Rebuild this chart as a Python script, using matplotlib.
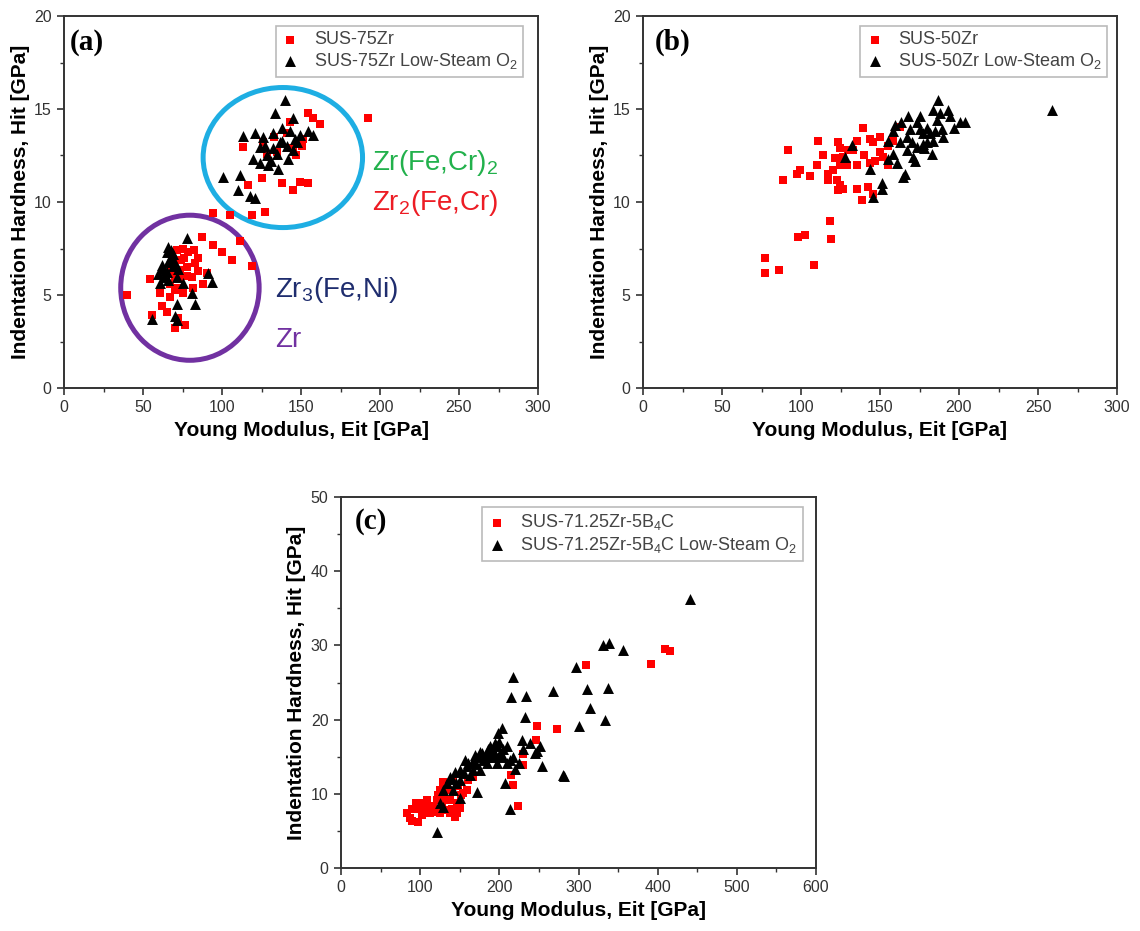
import numpy as np
import matplotlib
matplotlib.use("Agg")
import matplotlib.pyplot as plt
from matplotlib.patches import Ellipse
from matplotlib.ticker import MultipleLocator

plt.rcParams['font.family'] = ['Liberation Sans', 'DejaVu Sans']
plt.rcParams['mathtext.default'] = 'regular'

# ---- panel (a): SUS-75Zr ----
a_red_x = [154.6, 157.8, 162.0, 192.6, 143.0, 113.5, 125.1, 116.7, 137.8, 145.2, 149.4, 154.6,
           118.8, 127.2, 128.3, 145.0, 150.4, 134.6, 151.5, 141.0, 126.2, 94.5, 105.0,
           133.0, 147.0,
           39.7, 87.1, 94.5, 99.8, 106.1, 118.8, 111.4, 85.0, 82.9, 71.3, 75.5, 69.2, 77.6,
           80.8, 88.2, 73.4, 67.1, 54.4, 60.8, 67.1, 70.3, 75.5, 61.8, 55.5, 65.0, 70.3,
           76.6, 72.4, 78.7, 73.4, 68.1, 81.9, 90.3,
           74.0, 78.0, 72.0, 76.0, 82.0, 70.0, 85.0]
a_red_y = [14.77, 14.5, 14.2, 14.5, 14.3, 12.97, 11.3, 10.9, 11.0, 10.65, 11.1, 11.0,
           9.3, 9.45, 12.6, 12.9, 13.0, 12.7, 13.4, 13.7, 13.2, 9.39, 9.3,
           13.5, 12.5,
           5.0, 8.13, 7.7, 7.3, 6.9, 6.55, 7.9, 7.0, 6.7, 7.4, 7.5, 6.7, 6.5,
           5.99, 5.6, 5.99, 5.6, 5.87, 5.1, 4.9, 5.25, 5.1, 4.4, 3.95, 4.1, 3.2,
           3.4, 3.75, 7.3, 6.35, 6.35, 5.4, 6.16,
           6.9, 6.0, 5.4, 7.0, 7.4, 6.0, 6.3]
a_blk_x = [139.9, 133.5, 145.0, 113.5, 120.9, 126.2, 132.5, 143.0, 149.4, 154.7, 157.8, 137.8,
           124.0, 132.5, 128.3, 145.0, 119.8, 124.0, 129.3, 135.6, 142.0, 136.7, 147.3,
           100.8, 111.4, 110.3, 117.7, 120.9,
           141.0, 135.0, 127.0, 146.0, 131.0, 138.0,
           77.6, 64.9, 69.2, 67.1, 61.8, 70.3, 64.9, 59.7, 69.2, 63.0, 71.3, 91.4, 93.5,
           75.5, 60.8, 80.8, 83.0, 71.3, 71.3, 70.3, 55.5, 69.2, 66.0, 64.0,
           66.0, 68.0, 62.0, 72.0, 66.0]
a_blk_y = [15.5, 14.8, 14.5, 13.55, 13.7, 13.5, 13.7, 13.8, 13.6, 13.8, 13.6, 13.3,
           12.97, 12.9, 12.5, 12.8, 12.3, 12.1, 12.0, 11.8, 12.3, 13.2, 13.2,
           11.36, 11.45, 10.65, 10.3, 10.2,
           13.0, 12.6, 13.0, 13.4, 12.2, 14.0,
           8.05, 7.3, 7.2, 6.95, 6.6, 6.7, 6.24, 6.15, 6.55, 5.98, 5.98, 6.16, 5.7,
           5.62, 5.62, 5.1, 4.5, 4.5, 3.66, 3.85, 3.7, 6.9, 7.6, 6.3,
           6.8, 7.4, 6.4, 6.4, 5.8]

# ---- panel (b): SUS-50Zr ----
b_red_x = [92.0, 111.0, 88.8, 97.3, 99.4, 105.7, 114.1, 117.3, 117.3, 123.6, 124.7, 121.5,
           124.7, 128.9, 135.2, 122.6, 124.7, 126.8, 123.6, 135.2, 138.4, 142.6, 139.5,
           135.2, 143.7, 145.8, 150.0, 133.1, 150.0, 143.7, 152.1, 162.7, 155.3, 158.4,
           118.4, 118.8, 98.3, 102.5, 145.8, 126.8, 77.0, 77.0, 86.0, 108.0,
           130.0, 140.0, 147.0, 155.0, 120.0, 110.0]
b_red_y = [12.8, 13.3, 11.2, 11.5, 11.7, 11.4, 12.5, 11.5, 11.2, 13.2, 12.9, 12.35,
           11.99, 11.99, 11.99, 11.2, 10.9, 10.7, 10.65, 10.7, 10.1, 10.8, 13.96,
           13.3, 13.4, 13.2, 13.5, 12.8, 12.7, 12.1, 12.4, 14.05, 13.0, 13.3,
           9.0, 8.0, 8.13, 8.2, 10.45, 12.4, 7.0, 6.2, 6.35, 6.6,
           12.8, 12.5, 12.2, 12.0, 11.7, 12.0]
b_blk_x = [132.1, 127.9, 143.7, 151.1, 151.1, 145.8, 159.5, 155.3, 158.4, 160.5, 165.8, 164.6,
           171.1, 173.2, 177.4, 182.7, 183.7, 166.9, 173.2, 179.5, 186.9, 183.7, 193.2,
           203.8, 194.2, 189.0, 190.0, 162.7, 166.9, 177.4, 185.8, 200.6, 175.3, 169.0,
           181.6, 258.7,
           170.0, 175.0, 180.0, 185.0, 158.0, 163.0, 168.0, 188.0, 178.0, 172.0, 155.0, 197.0]
b_blk_y = [13.06, 12.4, 11.8, 11.0, 10.7, 10.25, 14.14, 13.3, 12.6, 12.1, 11.5, 11.35,
           12.4, 12.95, 13.1, 12.6, 13.3, 13.5, 14.3, 14.0, 15.5, 14.95, 14.95,
           14.3, 14.6, 13.9, 13.5, 13.2, 12.8, 13.7, 14.4, 14.3, 14.6, 13.9,
           13.7, 14.95,
           13.2, 13.9, 13.2, 13.8, 13.8, 14.3, 14.6, 14.8, 12.9, 12.2, 12.3, 14.0]

# ---- panel (c): SUS-71.25Zr-5B4C ----
c_red_x = [309.3, 391.0, 409.1, 415.4, 247.0, 273.2, 246.2, 230.2, 229.4, 216.8, 223.9, 214.2,
           82.9, 87.1, 97.6, 99.8, 106.1, 112.4, 125.0, 137.6, 146.0, 143.9, 133.4, 108.2,
           116.6, 93.4, 129.2, 141.9, 148.2, 154.5, 158.7, 167.1, 129.2, 120.8, 150.3,
           101.9, 125.0, 137.6, 146.0,
           90.0, 95.0, 105.0, 110.0, 118.0, 122.0, 135.0, 140.0, 102.0, 128.0, 152.0, 160.0, 90.0]
c_red_y = [27.4, 27.5, 29.5, 29.2, 19.1, 18.7, 17.3, 15.4, 13.9, 11.2, 8.3, 12.5,
           7.37, 6.7, 6.25, 8.7, 8.5, 7.37, 10.5, 9.2, 8.7, 6.9, 7.8, 9.2,
           8.3, 7.9, 11.6, 11.9, 11.0, 10.1, 10.5, 12.3, 9.6, 9.2, 8.05,
           8.05, 7.37, 7.4, 7.4,
           8.0, 8.8, 7.8, 8.2, 7.6, 9.8, 10.5, 8.0, 7.2, 8.6, 9.8, 11.8, 6.3]
c_blk_x = [440.7, 331.2, 339.0, 355.7, 296.3, 217.6, 214.3, 233.2, 268.1, 310.2, 337.5, 314.4,
           232.3, 301.0, 333.3, 202.9, 228.3, 238.6, 251.3, 247.0, 253.4, 279.9, 281.6,
           213.4, 121.6, 207.0, 219.7,
           129.2, 133.4, 137.6, 144.0, 150.3, 156.6, 158.7, 165.0, 169.2, 173.4, 175.5,
           179.7, 183.9, 186.0, 190.2, 192.3, 194.4, 196.5, 200.7, 204.9, 209.2, 213.4,
           217.6, 167.1, 175.5, 150.3, 141.9, 162.9, 125.0, 129.2, 171.3, 150.3, 183.9,
           196.5, 209.2,
           160.0, 170.0, 185.0, 195.0, 200.0, 205.0, 155.0, 145.0, 140.0, 178.0, 188.0,
           198.0, 230.0, 245.0, 225.0]
c_blk_y = [36.3, 30.05, 30.3, 29.4, 27.1, 25.7, 23.0, 23.2, 23.8, 24.1, 24.3, 21.5,
           20.4, 19.1, 19.9, 18.9, 17.3, 16.8, 16.4, 15.8, 13.7, 12.6, 12.4,
           8.0, 4.89, 11.4, 13.4,
           10.5, 11.4, 12.3, 13.0, 13.2, 14.6, 13.7, 14.1, 15.2, 15.0, 15.7,
           14.6, 15.5, 16.1, 15.0, 15.9, 16.8, 16.4, 15.5, 15.0, 16.4, 14.6,
           15.0, 13.2, 13.2, 11.9, 10.5, 12.5, 8.7, 8.28, 10.3, 9.4, 14.1,
           14.1, 14.1,
           14.2, 14.0, 15.0, 15.2, 17.0, 16.0, 12.8, 11.5, 12.0, 15.5, 16.5,
           18.2, 16.0, 15.5, 14.2]

W, H = 1140, 931
fig = plt.figure(figsize=(W / 100, H / 100), dpi=100)

def px_axes(l, t, r, b):
    return fig.add_axes([l / W, (H - b) / H, (r - l) / W, (b - t) / H])

def style(ax, xmax, xmaj, xmin, ymax, ymaj, ymin, tag, tag_x, tag_y):
    ax.set_xlim(0, xmax)
    ax.set_ylim(0, ymax)
    ax.xaxis.set_major_locator(MultipleLocator(xmaj))
    ax.xaxis.set_minor_locator(MultipleLocator(xmin))
    ax.yaxis.set_major_locator(MultipleLocator(ymaj))
    ax.yaxis.set_minor_locator(MultipleLocator(ymin))
    ax.tick_params(which='both', direction='out', top=False, right=False,
                   color='#333333', labelcolor='#333333', labelsize=11.5, pad=4)
    ax.tick_params(which='major', length=5, width=1.2)
    ax.tick_params(which='minor', length=3, width=1.0)
    for sp in ax.spines.values():
        sp.set_color('#333333')
        sp.set_linewidth(1.4)
    ax.set_xlabel('Young Modulus, Eit [GPa]', fontsize=15, fontweight='bold', labelpad=4)
    ax.set_ylabel('Indentation Hardness, Hit [GPa]', fontsize=15, fontweight='bold', labelpad=3)
    ax.text(tag_x, tag_y, tag, transform=ax.transAxes, ha='left', va='center',
            fontsize=21, fontweight='bold', family=['Liberation Serif'])

def legend(ax, lab1, lab2, anchor):
    leg = ax.legend([lab1, lab2], loc='upper right', bbox_to_anchor=anchor,
                    borderaxespad=0, fancybox=False, framealpha=1, edgecolor='#bbbbbb',
                    fontsize=13, labelspacing=0.15, handlelength=1.0, handletextpad=0.8,
                    borderpad=0.3, scatterpoints=1, markerscale=1.0)
    leg.get_frame().set_linewidth(1.2)
    for t in leg.get_texts():
        t.set_color('#444444')

SQ, TR = 40, 62

# (a)
ax1 = px_axes(64, 16, 538, 388)
ax1.scatter(a_red_x, a_red_y, marker='s', s=SQ, color='#ff0000', linewidths=0, zorder=3)
ax1.scatter(a_blk_x, a_blk_y, marker='^', s=TR, color='black', linewidths=0, zorder=4)
ax1.add_patch(Ellipse((138.5, 12.39), 100.9, 7.53, fill=False, edgecolor='#1eaee3', linewidth=3.6, zorder=2))
ax1.add_patch(Ellipse((79.7, 5.39), 87.6, 7.8, fill=False, edgecolor='#7131a1', linewidth=3.6, zorder=2))
ax1.text(195, 12.1, 'Zr(Fe,Cr)$_2$', color='#22b14c', fontsize=20, va='center')
ax1.text(195, 9.95, 'Zr$_2$(Fe,Cr)', color='#ed1c24', fontsize=20, va='center')
ax1.text(133.5, 5.27, 'Zr$_3$(Fe,Ni)', color='#1f2d6e', fontsize=20, va='center')
ax1.text(133.5, 2.58, 'Zr', color='#7131a1', fontsize=20, va='center')
style(ax1, 300, 50, 25, 20, 5, 2.5, '(a)', 0.013, 0.93)
legend(ax1, 'SUS-75Zr', 'SUS-75Zr Low-Steam O$_2$', (0.968, 0.973))

# (b)
ax2 = px_axes(643, 16, 1117, 388)
ax2.scatter(b_red_x, b_red_y, marker='s', s=SQ, color='#ff0000', linewidths=0, zorder=3)
ax2.scatter(b_blk_x, b_blk_y, marker='^', s=TR, color='black', linewidths=0, zorder=4)
style(ax2, 300, 50, 25, 20, 5, 2.5, '(b)', 0.025, 0.93)
legend(ax2, 'SUS-50Zr', 'SUS-50Zr Low-Steam O$_2$', (0.979, 0.973))

# (c)
ax3 = px_axes(341, 497, 816, 868)
ax3.scatter(c_red_x, c_red_y, marker='s', s=SQ, color='#ff0000', linewidths=0, zorder=3)
ax3.scatter(c_blk_x, c_blk_y, marker='^', s=TR, color='black', linewidths=0, zorder=4)
style(ax3, 600, 100, 50, 50, 10, 5, '(c)', 0.03, 0.933)
legend(ax3, 'SUS-71.25Zr-5B$_4$C', 'SUS-71.25Zr-5B$_4$C Low-Steam O$_2$', (0.973, 0.973))

fig.savefig('out.png', dpi=100)
